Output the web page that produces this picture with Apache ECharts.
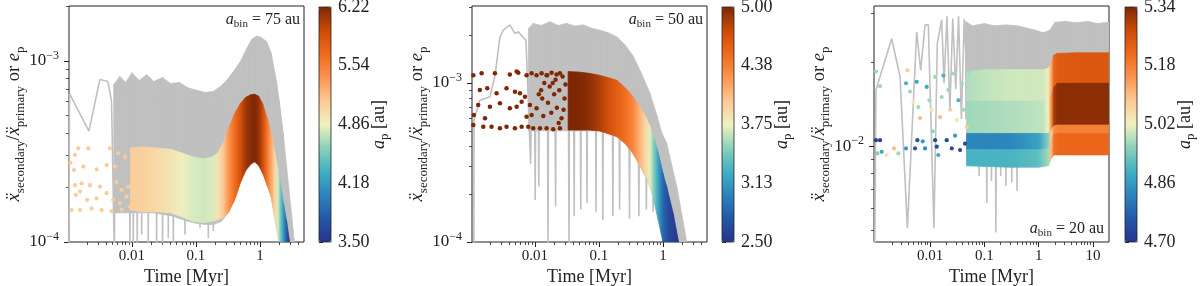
<!DOCTYPE html>
<html><head><meta charset="utf-8">
<script src="https://cdn.jsdelivr.net/npm/echarts@6/dist/echarts.min.js"></script>
<style>html,body{margin:0;padding:0;background:#fff}#c{width:1200px;height:286px}</style>
</head><body><div id="c"></div>
<script>
// ---------------- DATA ----------------
const aBin = [75, 50, 20];
const xMajor12 = [0.01, 0.1, 1];
const xMajorLabels12 = ['0.01', '0.1', '1'];
const xMinor12 = [0.002,0.003,0.004,0.005,0.006,0.007,0.008,0.009,0.02,0.03,0.04,0.05,0.06,0.07,0.08,0.09,0.2,0.3,0.4,0.5,0.6,0.7,0.8,0.9,2,3,4];
const xMajor3 = [0.01, 0.1, 1, 10];
const xMajorLabels3 = ['0.01', '0.1', '1', '10'];
const xMinor3 = [0.002,0.003,0.004,0.005,0.006,0.007,0.008,0.009,0.02,0.03,0.04,0.05,0.06,0.07,0.08,0.09,0.2,0.3,0.4,0.5,0.6,0.7,0.8,0.9,2,3,4,5,6,7,8,9];
const yMajor12 = [1e-4, 1e-3];
const yMinor1 = [2e-4,3e-4,4e-4,5e-4,6e-4,7e-4,8e-4,9e-4,2e-3];
const yMinor2 = [2e-4,3e-4,4e-4,5e-4,6e-4,7e-4,8e-4,9e-4,2e-3,3e-3];
const yMajor3 = [1e-2];
const yMinor3 = [5e-3,6e-3,7e-3,8e-3,9e-3,2e-2,3e-2];
const cbTicks1 = [3.50, 4.18, 4.86, 5.54, 6.22];
const cbTicks2 = [2.50, 3.13, 3.75, 4.38, 5.00];
const cbTicks3 = [4.70, 4.86, 5.02, 5.18, 5.34];

// Panel 1 (a_bin = 75 au): grey ratio curve [t, value]
const p1GreyLine = [
 [0.00104,0.00009],[0.00106,0.00066],[0.00213,0.00041],[0.00316,0.00079],[0.0042,0.00077],[0.0048,0.0006],[0.0053,0.00009],[0.0056,0.00074],[0.0065,0.0008],
 [0.0091,0.0006],[0.0093,0.00009],[0.0095,0.0006],
 [0.0103,0.0006],[0.0105,0.00009],[0.0107,0.0006],
 [0.0119,0.0006],[0.0121,0.00009],[0.0123,0.0006],
 [0.0140,0.0006],[0.0142,0.00011],[0.0144,0.0006],
 [0.0177,0.0006],[0.0180,0.00009],[0.0183,0.0006],
 [0.0239,0.0006],[0.0243,0.00009],[0.0247,0.0006],
 [0.0296,0.0006],[0.0301,0.00009],[0.0306,0.0006],
 [0.0364,0.0006],[0.0370,0.000105],[0.0376,0.0006],
 [0.0436,0.0006],[0.0443,0.00009],[0.0450,0.0006],
 [0.0662,0.0006],[0.0673,0.00011],[0.0684,0.0006],
 [0.1136,0.0006],[0.1155,0.00012],[0.1174,0.0006],
 [0.153,0.0006],[0.156,0.000105],[0.159,0.0006],
 [0.184,0.0006],[0.187,0.000115],[0.190,0.0006]
];
// Panel 1 grey envelope [t, low, high]
const p1GreyBand = [
 [0.0052,1.45e-4,7.4e-4],[0.0065,1.45e-4,8.2e-4],[0.008,1.45e-4,7.6e-4],[0.01,1.45e-4,8.6e-4],[0.013,1.45e-4,7.8e-4],
 [0.017,1.45e-4,8.4e-4],[0.022,1.45e-4,7.7e-4],[0.03,1.42e-4,8.1e-4],[0.04,1.4e-4,7.5e-4],[0.055,1.35e-4,7.6e-4],
 [0.075,1.3e-4,7.1e-4],[0.1,1.27e-4,6.9e-4],[0.14,1.25e-4,6.7e-4],[0.19,1.25e-4,6.8e-4],[0.25,1.3e-4,7.3e-4],
 [0.32,1.45e-4,8.0e-4],[0.4,1.7e-4,8.9e-4],[0.5,2.15e-4,1.0e-3],[0.62,2.5e-4,1.17e-3],[0.75,2.7e-4,1.32e-3],
 [0.88,2.75e-4,1.37e-3],[1.0,2.6e-4,1.36e-3],[1.27,2.2e-4,1.28e-3],[1.5,1.77e-4,1.1e-3],[1.82,1.2e-4,7.6e-4],
 [2.0,1.0e-4,6.0e-4],[2.3,1.0e-4,4.0e-4],[2.6,1.0e-4,2.6e-4],[3.0,1.0e-4,1.6e-4],[3.45,1.0e-4,1.0e-4]
];
// Panel 1 dense e_p band [t, low, a_p, high]
const p1Band = [
 [0.0095,1.5e-4,5.1,3.3e-4],[0.015,1.47e-4,5.08,3.35e-4],[0.025,1.47e-4,5.02,3.3e-4],[0.04,1.45e-4,4.95,3.25e-4],
 [0.06,1.38e-4,4.88,3.1e-4],[0.09,1.3e-4,4.8,2.95e-4],[0.13,1.28e-4,4.78,2.88e-4],[0.18,1.3e-4,4.8,2.95e-4],
 [0.22,1.33e-4,4.95,3.1e-4],[0.27,1.37e-4,5.15,3.55e-4],[0.32,1.45e-4,5.4,4.2e-4],[0.4,1.7e-4,5.65,5.1e-4],
 [0.5,2.15e-4,5.9,5.85e-4],[0.6,2.5e-4,6.1,6.3e-4],[0.72,2.7e-4,6.2,6.5e-4],[0.82,2.78e-4,6.22,6.55e-4],
 [0.95,2.65e-4,6.15,6.4e-4],[1.1,2.4e-4,5.95,5.8e-4],[1.3,2.05e-4,5.6,4.8e-4],[1.5,1.77e-4,5.3,4.0e-4],
 [1.7,1.35e-4,5.05,3.1e-4],[1.9,1.05e-4,4.8,2.55e-4],[2.1,1.0e-4,4.5,2.05e-4],[2.35,1.0e-4,4.15,1.6e-4],
 [2.6,1.0e-4,3.8,1.3e-4],[2.9,1.0e-4,3.5,1.0e-4]
];
// Panel 1 early scatter [t, e_p, a_p]
const p1Pts = [
 [0.00145,3.29e-4,5.12],[0.00208,3.29e-4,5.12],[0.00129,3.03e-4,5.12],[0.0011,2.74e-4,5.12],[0.00124,2.5e-4,5.12],
 [0.00174,2.61e-4,5.12],[0.0028,2.52e-4,5.12],[0.00402,2.66e-4,5.12],[0.00542,2.61e-4,5.12],[0.00453,3.29e-4,5.12],
 [0.0061,3.09e-4,5.12],[0.00778,2.96e-4,5.12],[0.00129,2.06e-4,5.12],[0.00164,2.11e-4,5.12],[0.00221,2.06e-4,5.12],
 [0.00316,2.02e-4,5.12],[0.00402,1.86e-4,5.12],[0.00575,2.15e-4,5.12],[0.0069,1.94e-4,5.12],[0.00877,2.02e-4,5.12],
 [0.00133,1.82e-4,5.12],[0.00154,1.9e-4,5.12],[0.002,1.71e-4,5.12],[0.0028,1.74e-4,5.12],[0.0051,1.71e-4,5.12],
 [0.0065,1.64e-4,5.12],[0.00826,1.78e-4,5.12],[0.00114,1.5e-4,5.12],[0.00154,1.5e-4,5.12],[0.00234,1.53e-4,5.12],
 [0.00336,1.5e-4,5.12],[0.00481,1.48e-4,5.12],[0.0069,1.51e-4,5.12],[0.0093,1.57e-4,5.12]
];

// Panel 2 (a_bin = 50 au)
const p2GreyLine = [
 [0.00111,0.00009],[0.00112,0.000585],[0.00138,0.00078],[0.00198,0.00082],[0.00237,0.0011],[0.00284,0.00195],[0.0032,0.00215],
 [0.00406,0.00232],[0.00487,0.00205],[0.0055,0.0021],[0.00642,0.00195],[0.00723,0.00186],[0.00787,0.00078],[0.00856,0.00031],[0.0089,0.0012],
 [0.0099,0.0008],[0.0101,0.000184],[0.0103,0.0008],
 [0.0113,0.0008],[0.0115,0.000223],[0.0117,0.0008],
 [0.0157,0.0008],[0.0160,0.00009],[0.0163,0.0008],
 [0.0206,0.0008],[0.0210,0.000167],[0.0214,0.0008],
 [0.0334,0.0008],[0.0340,0.00009],[0.0346,0.0008],
 [0.0403,0.0008],[0.0410,0.000145],[0.0417,0.0008],
 [0.0511,0.0008],[0.0520,0.00016],[0.0529,0.0008],
 [0.0639,0.0008],[0.0650,0.000175],[0.0661,0.0008],
 [0.0885,0.0008],[0.0900,0.000155],[0.0915,0.0008],
 [0.113,0.0008],[0.115,0.000137],[0.117,0.0008],
 [0.162,0.0007],[0.165,0.000145],[0.168,0.0007],
 [0.206,0.0007],[0.210,0.00016],[0.214,0.0007],
 [0.294,0.0006],[0.300,0.00014],[0.306,0.0006],
 [0.412,0.0005],[0.420,0.000145],[0.428,0.0005],
 [0.539,0.0004],[0.550,0.00016],[0.561,0.0004],
 [0.686,0.0003],[0.700,0.000155],[0.714,0.0003]
];
const p2GreyBand = [
 [0.0079,5.0e-4,2.2e-3],[0.0094,5.0e-4,2.37e-3],[0.0125,5.0e-4,2.3e-3],[0.0172,5.0e-4,2.43e-3],[0.023,5.0e-4,2.3e-3],
 [0.031,5.0e-4,2.37e-3],[0.042,5.0e-4,2.28e-3],[0.057,5.0e-4,2.32e-3],[0.08,5.0e-4,2.2e-3],[0.1035,5.0e-4,2.15e-3],
 [0.14,4.8e-4,2.07e-3],[0.19,4.6e-4,1.95e-3],[0.26,4.1e-4,1.72e-3],[0.344,3.6e-4,1.47e-3],[0.46,2.9e-4,1.15e-3],
 [0.626,2.23e-4,8.6e-4],[0.8,1.6e-4,6.3e-4],[0.95,1.25e-4,4.9e-4],[1.14,1.0e-4,4.18e-4],[1.64,1.0e-4,2.23e-4],[2.35,1.0e-4,1.0e-4]
];
const p2Band = [
 [0.033,5.06e-4,5.0,1.18e-3],[0.05,5.06e-4,5.0,1.17e-3],[0.07,5.06e-4,4.95,1.15e-3],[0.1,5.0e-4,4.85,1.12e-3],
 [0.14,4.8e-4,4.72,1.08e-3],[0.19,4.6e-4,4.6,1.04e-3],[0.26,4.15e-4,4.47,9.3e-4],[0.34,3.6e-4,4.33,8.2e-4],
 [0.44,3.0e-4,4.1,7.0e-4],[0.55,2.55e-4,3.88,6.0e-4],[0.63,2.23e-4,3.72,5.3e-4],[0.72,1.8e-4,3.48,4.5e-4],
 [0.85,1.35e-4,3.15,3.6e-4],[1.0,1.0e-4,2.85,2.7e-4],[1.14,1.0e-4,2.7,2.23e-4],[1.45,1.0e-4,2.56,1.5e-4],[1.75,1.0e-4,2.5,1.0e-4]
];
const p2Pts = [
 [0.00109,1.12e-3,5.0],[0.00147,1.15e-3,5.0],[0.00237,1.15e-3,5.0],[0.00406,1.13e-3,5.0],[0.00518,1.18e-3,5.0],[0.0055,1.16e-3,5.0],
 [0.0074,1.12e-3,5.0],[0.00887,1.15e-3,5.0],[0.0106,1.12e-3,5.0],[0.0127,1.15e-3,5.0],[0.0152,1.12e-3,5.0],[0.0182,1.16e-3,5.0],
 [0.0218,1.13e-3,5.0],[0.0246,1.15e-3,5.0],
 [0.00138,9.04e-4,5.0],[0.0018,9.26e-4,5.0],[0.00252,8.61e-4,5.0],[0.0036,9.26e-4,5.0],[0.00487,8.82e-4,5.0],[0.00583,8.61e-4,5.0],[0.00698,8.2e-4,5.0],
 [0.0013,7.28e-4,5.0],[0.00198,7.1e-4,5.0],[0.00284,7.45e-4,5.0],[0.00406,6.93e-4,5.0],[0.00518,7.1e-4,5.0],[0.0062,7.63e-4,5.0],[0.00835,7.28e-4,5.0],[0.0106,6.93e-4,5.0],
 [0.00111,6.29e-4,5.0],[0.00166,6.0e-4,5.0],[0.0074,6.14e-4,5.0],[0.00887,6.29e-4,5.0],
 [0.00109,5.45e-4,5.0],[0.00156,5.31e-4,5.0],[0.0021,5.31e-4,5.0],[0.00284,5.19e-4,5.0],[0.0036,5.31e-4,5.0],[0.00487,5.19e-4,5.0],
 [0.0062,5.31e-4,5.0],[0.00787,5.31e-4,5.0],[0.0094,5.19e-4,5.0],[0.012,5.19e-4,5.0],[0.0152,5.19e-4,5.0],[0.0193,5.11e-4,5.0],[0.0246,5.19e-4,5.0],
 [0.0125,9.0e-4,5.0],[0.013,8.0e-4,5.0],[0.014,1.0e-3,5.0],[0.016,7.5e-4,5.0],[0.017,9.5e-4,5.0],[0.018,6.5e-4,5.0],[0.02,8.5e-4,5.0],
 [0.021,1.05e-3,5.0],[0.022,7.0e-4,5.0],[0.024,9.0e-4,5.0],[0.026,6.0e-4,5.0],[0.027,1.1e-3,5.0],[0.029,8.0e-4,5.0],[0.03,9.8e-4,5.0],
 [0.0115,8.5e-4,5.0],[0.0135,6.2e-4,5.0],[0.0155,1.12e-3,5.0],[0.019,1.0e-3,5.0],[0.0235,5.6e-4,5.0],[0.028,6.8e-4,5.0]
];

// Panel 3 (a_bin = 20 au)
const p3GreyLine = [
 [0.00096,0.004],[0.00101,0.0159],[0.00197,0.0243],[0.00281,0.0177],[0.00383,0.00508],[0.00568,0.0257],[0.00673,0.0187],
 [0.0081,0.0272],[0.0093,0.0272],[0.0118,0.00508],[0.0136,0.0233],[0.0164,0.0284],[0.0181,0.0168],[0.0205,0.0292],
 [0.0232,0.0135],[0.0262,0.0287],[0.0298,0.016],[0.0335,0.0292],[0.0378,0.0125],[0.0425,0.0285],[0.0478,0.0175],
 [0.078,0.015],[0.080,0.0078],[0.082,0.015],
 [0.108,0.015],[0.111,0.00625],[0.114,0.015],
 [0.132,0.015],[0.135,0.0075],[0.138,0.015],
 [0.159,0.015],[0.163,0.0049],[0.167,0.015],
 [0.195,0.015],[0.200,0.0078],[0.205,0.015],
 [0.244,0.015],[0.250,0.0072],[0.256,0.015],
 [0.312,0.015],[0.320,0.0074],[0.328,0.015],
 [0.39,0.015],[0.40,0.0069],[0.41,0.015],
 [0.78,0.015],[0.80,0.0088],[0.82,0.015],
 [1.07,0.015],[1.10,0.009],[1.13,0.015]
];
const p3GreyBand = [
 [0.045,0.0125,0.028],[0.06,0.0125,0.027],[0.1,0.0125,0.0275],[0.15,0.0125,0.027],[0.25,0.0125,0.0272],[0.4,0.0125,0.027],
 [0.6,0.0125,0.0265],[0.9,0.0125,0.026],[1.2,0.0125,0.0255],[1.6,0.0125,0.026],[2.0,0.0125,0.0278],[3.0,0.0125,0.028],
 [5.0,0.0125,0.0277],[8.0,0.0125,0.028],[12,0.0125,0.0275],[19.6,0.0125,0.0278]
];
const p3BandU = [
 [0.047,0.0145,4.98,0.0185],[0.1,0.0145,4.99,0.0188],[0.3,0.0145,5.0,0.0188],[0.7,0.0145,5.0,0.0188],[1.2,0.0145,5.0,0.0188],
 [1.5,0.0145,5.03,0.019],[1.7,0.0152,5.12,0.0198],[1.9,0.0163,5.22,0.0212],[2.2,0.0168,5.24,0.0215],[5,0.0168,5.25,0.0216],[19.6,0.0168,5.25,0.0216]
];
const p3BandM = [
 [0.047,0.0111,4.97,0.0145],[0.3,0.0111,4.98,0.0145],[1.2,0.0111,4.99,0.0145],[1.5,0.0111,5.02,0.0145],
 [1.7,0.0114,5.15,0.0152],[1.9,0.0118,5.3,0.0163],[2.2,0.0119,5.33,0.0168],[19.6,0.0119,5.33,0.0168]
];
const p3BandS = [
 [0.047,0.0097,4.83,0.0111],[0.3,0.0097,4.83,0.0111],[1.0,0.0097,4.87,0.0111],[1.5,0.0098,4.95,0.0111],
 [1.7,0.0105,5.08,0.0114],[1.9,0.011,5.16,0.0118],[2.2,0.0111,5.18,0.0119],[19.6,0.0111,5.18,0.0119]
];
const p3BandL = [
 [0.047,0.0085,4.9,0.0097],[0.3,0.0084,4.9,0.0097],[1.0,0.0084,4.92,0.0097],[1.5,0.0085,4.97,0.0098],
 [1.7,0.009,5.1,0.0105],[1.9,0.0093,5.2,0.011],[2.2,0.0093,5.22,0.0111],[19.6,0.0093,5.22,0.0111]
];
const p3Pts = [
 [0.00101,0.0185,4.97],[0.0012,0.0164,4.97],[0.00101,0.0105,4.72],[0.0012,0.0105,4.72],[0.00107,0.00941,4.95],
 [0.00129,0.00954,4.88],[0.00159,0.00929,5.04],[0.00217,0.00981,5.1],[0.00261,0.00941,4.97],[0.00361,0.00981,4.86],
 [0.00383,0.0187,5.08],[0.00361,0.0168,4.9],[0.00429,0.0157,4.97],[0.00494,0.0144,5.04],[0.00568,0.017,4.88],
 [0.0061,0.0138,4.97],[0.00654,0.0126,5.1],[0.00733,0.0104,4.86],[0.0081,0.00981,4.84],[0.0053,0.00981,4.76],
 [0.00584,0.0105,4.76],[0.00869,0.0163,4.88],[0.00972,0.0146,4.97],[0.0107,0.0135,5.04],[0.0112,0.0113,4.96],
 [0.0124,0.0177,4.97],[0.0124,0.0105,4.74],[0.0133,0.00995,4.74],[0.0142,0.00929,4.88],[0.0153,0.0127,5.1],
 [0.0164,0.015,4.97],[0.0176,0.0179,4.9],[0.0203,0.0105,4.74],[0.0218,0.0159,4.97],[0.0234,0.0135,5.08],
 [0.0251,0.00981,4.74],[0.0269,0.0182,4.97],[0.0289,0.0109,4.86],[0.031,0.0124,5.04],[0.0332,0.0146,4.9],
 [0.0357,0.00968,4.74],[0.0383,0.0168,4.97],[0.0411,0.0135,4.97],[0.0441,0.0102,4.74],[0.0474,0.0117,5.08],[0.0508,0.0185,4.97]
];

// ---------------- STYLE / LAYOUT ----------------
const SERIF = "'Liberation Serif', 'DejaVu Serif', serif";
const INK = '#222222';
const GREY = '#c0c0c0';
const CMAP = ['#26348c','#2458a7','#2b85bc','#40afc3','#8ad1bb','#eef2c0','#fdc995','#fc9450','#ef6a1c','#cc4b08','#7f2704'];

const panels = [
 {left:69, cbLeft:319, xMin:0.00104, xMax:4.87, yMin:1e-4, yMax:2.01e-3, xMajor:xMajor12, xLabels:xMajorLabels12, xMinor:xMinor12,
  yMajor:yMajor12, yMinor:yMinor1, cbMin:3.5, cbMax:6.22, cbTicks:cbTicks1, greyBand:p1GreyBand, greyLine:p1GreyLine, bands:[p1Band], pts:p1Pts, sym:4.2, noteX:300, noteY:20},
 {left:472, cbLeft:722, xMin:0.00104, xMax:4.87, yMin:1e-4, yMax:3.05e-3, xMajor:xMajor12, xLabels:xMajorLabels12, xMinor:xMinor12,
  yMajor:yMajor12, yMinor:yMinor2, cbMin:2.5, cbMax:5.0, cbTicks:cbTicks2, greyBand:p2GreyBand, greyLine:p2GreyLine, bands:[p2Band], pts:p2Pts, sym:4.5, noteX:703, noteY:20},
 {left:874, cbLeft:1125, xMin:0.00093, xMax:19.7, yMin:0.00453, yMax:0.0318, xMajor:xMajor3, xLabels:xMajorLabels3, xMinor:xMinor3,
  yMajor:yMajor3, yMinor:yMinor3, cbMin:4.70, cbMax:5.34, cbTicks:cbTicks3, greyBand:p3GreyBand, greyLine:p3GreyLine, bands:[p3BandU,p3BandM,p3BandS,p3BandL], pts:p3Pts, sym:4.2, noteX:1104, noteY:229}
];

const richTick = {
  b:{fontFamily:SERIF, fontSize:17, lineHeight:22, color:INK},
  s:{fontFamily:SERIF, fontSize:12, lineHeight:12, verticalAlign:'top', color:INK}
};
const richYName = {
  i:{fontFamily:SERIF, fontStyle:'italic', fontSize:18.5, lineHeight:26, color:INK},
  n:{fontFamily:SERIF, fontSize:18.5, lineHeight:26, color:INK},
  s:{fontFamily:SERIF, fontSize:13, lineHeight:14, verticalAlign:'bottom', color:INK}
};
const richCbName = {
  i:{fontFamily:SERIF, fontStyle:'italic', fontSize:18, lineHeight:24, color:INK},
  n:{fontFamily:SERIF, fontSize:18, lineHeight:24, color:INK},
  s:{fontFamily:SERIF, fontSize:13, lineHeight:13, verticalAlign:'bottom', color:INK}
};
const richNote = {
  i:{fontFamily:SERIF, fontStyle:'italic', fontSize:16, lineHeight:20, fill:INK, color:INK},
  n:{fontFamily:SERIF, fontSize:16, lineHeight:20, fill:INK, color:INK},
  s:{fontFamily:SERIF, fontSize:11, lineHeight:11, verticalAlign:'bottom', fill:INK, color:INK}
};

function makeXFmt(ticks, labels) {
  return function (v) {
    for (let i = 0; i < ticks.length; i++) {
      if (Math.abs(Math.log10(v) - Math.log10(ticks[i])) < 1e-6) return labels[i];
    }
    return '';
  };
}
function fmtY(v) {
  const e = Math.round(Math.log10(v));
  return '{b|10}{s|' + (e < 0 ? '\u2212' : '') + Math.abs(e) + '}';
}

function greyBandRender(arr) {
  return function (params, api) {
    const i = params.dataIndex;
    if (i === 0) return null;
    const a = arr[i - 1], b = arr[i];
    const pts = [api.coord([a[0], a[1]]), api.coord([a[0], a[2]]), api.coord([b[0], b[2]]), api.coord([b[0], b[1]])];
    return {type:'polygon', shape:{points:pts}, style:{fill:GREY, stroke:GREY, lineWidth:0.8}};
  };
}
function colorBandRender(arr) {
  const cols = [];
  return function (params, api) {
    const i = params.dataIndex;
    const c = api.visual('color');
    cols[i] = c;
    if (i === 0) return null;
    const a = arr[i - 1], b = arr[i];
    const p0 = api.coord([a[0], a[1]]), p1 = api.coord([a[0], a[3]]);
    const p2 = api.coord([b[0], b[3]]), p3 = api.coord([b[0], b[1]]);
    const grad = {type:'linear', x:p0[0], y:0, x2:p3[0], y2:0, global:true,
      colorStops:[{offset:0, color:cols[i - 1] || c}, {offset:1, color:c}]};
    return {type:'polygon', shape:{points:[p0, p1, p2, p3]}, style:{fill:grad, stroke:grad, lineWidth:0.8}};
  };
}

const grid = [], xAxis = [], yAxis = [], series = [], visualMap = [], graphic = [];
panels.forEach(function (p, k) {
  grid[k] = {left:p.left, top:6, width:235, height:236, show:true, borderColor:INK, borderWidth:1,
    backgroundColor:'transparent', containLabel:false, outerBoundsMode:'none'};
  grid[3 + k] = {left:p.cbLeft, top:7, width:12, height:235, show:true, borderColor:INK, borderWidth:0.8,
    backgroundColor:'transparent', containLabel:false, outerBoundsMode:'none', z:10};

  xAxis[2 * k] = {type:'log', logBase:10, gridIndex:k, min:p.xMin, max:p.xMax, position:'bottom',
    axisLine:{show:false}, splitLine:{show:false},
    axisTick:{show:true, inside:false, length:5, customValues:p.xMajor, lineStyle:{color:INK, width:1}},
    axisLabel:{show:true, customValues:p.xMajor, formatter:makeXFmt(p.xMajor, p.xLabels), margin:7,
      fontFamily:SERIF, fontSize:15, color:INK},
    name:'Time [Myr]', nameLocation:'middle', nameGap:26, nameMoveOverlap:false,
    nameTextStyle:{fontFamily:SERIF, fontSize:18, color:INK}};
  xAxis[2 * k + 1] = {type:'log', logBase:10, gridIndex:k, min:p.xMin, max:p.xMax, position:'bottom',
    axisLine:{show:false}, splitLine:{show:false}, axisLabel:{show:false},
    axisTick:{show:true, inside:false, length:3, customValues:p.xMinor, lineStyle:{color:INK, width:0.8}}};
  xAxis[6 + k] = {type:'value', gridIndex:3 + k, min:0, max:1, show:false};

  yAxis[2 * k] = {type:'log', logBase:10, gridIndex:k, min:p.yMin, max:p.yMax, position:'left',
    axisLine:{show:false}, splitLine:{show:false},
    axisTick:{show:true, inside:false, length:5, customValues:p.yMajor, lineStyle:{color:INK, width:1}},
    axisLabel:{show:true, customValues:p.yMajor, formatter:fmtY, margin:10, rich:richTick, color:INK},
    name:'{i|\u1E8D}{s|secondary}{n|/}{i|\u1E8D}{s|primary}{n| or }{i|e}{s|p}', nameLocation:'middle', nameRotate:90,
    nameGap:42, nameMoveOverlap:false, nameTextStyle:{rich:richYName, color:INK}};
  yAxis[2 * k + 1] = {type:'log', logBase:10, gridIndex:k, min:p.yMin, max:p.yMax, position:'left',
    axisLine:{show:false}, splitLine:{show:false}, axisLabel:{show:false},
    axisTick:{show:true, inside:false, length:3, customValues:p.yMinor, lineStyle:{color:INK, width:0.8}}};
  yAxis[6 + k] = {type:'value', gridIndex:3 + k, min:p.cbMin, max:p.cbMax, position:'right',
    axisLine:{show:false}, splitLine:{show:false},
    axisTick:{show:true, inside:false, length:4, customValues:p.cbTicks, lineStyle:{color:INK, width:1}},
    axisLabel:{show:true, customValues:p.cbTicks, formatter:function (v) { return v.toFixed(2); }, margin:7,
      fontFamily:SERIF, fontSize:18, color:INK},
    name:'{i|a}{s|p}{n| [au]}', nameLocation:'middle', nameRotate:90, nameGap:36, nameMoveOverlap:false,
    nameTextStyle:{rich:richCbName, color:INK}};

  series.push({type:'custom', xAxisIndex:2 * k, yAxisIndex:2 * k, data:p.greyBand, renderItem:greyBandRender(p.greyBand),
    silent:true, clip:true, z:2});
  series.push({type:'line', xAxisIndex:2 * k, yAxisIndex:2 * k, data:p.greyLine, showSymbol:false, symbol:'none',
    lineStyle:{color:GREY, width:1.6}, silent:true, clip:true, z:3});
  const colored = [];
  p.bands.forEach(function (b) {
    colored.push(series.length);
    series.push({type:'custom', xAxisIndex:2 * k, yAxisIndex:2 * k, data:b, renderItem:colorBandRender(b),
      silent:true, clip:true, z:4});
  });
  colored.push(series.length);
  series.push({type:'scatter', xAxisIndex:2 * k, yAxisIndex:2 * k, data:p.pts, symbol:'circle', symbolSize:p.sym,
    itemStyle:{opacity:1, borderWidth:0}, silent:true, z:5});

  visualMap.push({type:'continuous', show:true, seriesIndex:colored, dimension:2, min:p.cbMin, max:p.cbMax,
    inRange:{color:CMAP}, left:p.cbLeft, top:7, itemWidth:12, itemHeight:235, padding:0,
    calculable:false, hoverLink:false, orient:'vertical', realtime:false});

  graphic.push({type:'text', x:p.noteX, y:p.noteY, z:50, silent:true,
    style:{text:'{i|a}{s|bin}{n| = ' + aBin[k] + ' au}', rich:richNote, align:'right', verticalAlign:'middle',
      textAlign:'right', textVerticalAlign:'middle', fill:INK, fontFamily:SERIF, fontSize:16}});
});

const chart = echarts.init(document.getElementById('c'), null, {renderer:'canvas', width:1200, height:286});
chart.setOption({
  animation:false,
  backgroundColor:'#ffffff',
  textStyle:{fontFamily:SERIF},
  grid:grid, xAxis:xAxis, yAxis:yAxis, visualMap:visualMap, series:series, graphic:graphic
});
</script></body></html>
